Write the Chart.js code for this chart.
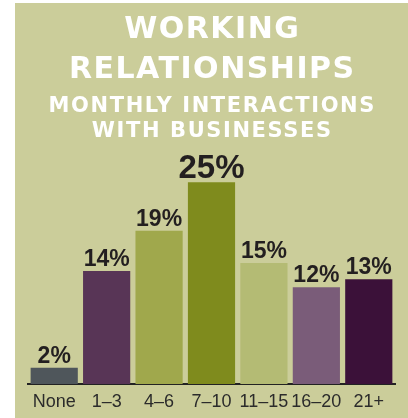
<!DOCTYPE html>
<html>
<head>
<meta charset="utf-8">
<script src="https://cdn.jsdelivr.net/npm/chart.js@4.4.0/dist/chart.umd.min.js"></script>
<style>
  html, body { margin: 0; padding: 0; background: #ffffff; }
  #panel { position: absolute; left: 15px; top: 3px; width: 393px; height: 415px; background: #cbcd9a; overflow: hidden; }
  #chart { display: block; }
</style>
</head>
<body>
<div id="panel"><canvas id="chart" width="393" height="420"></canvas></div>
<script>
// data
const categories = ['None', '1–3', '4–6', '7–10', '11–15', '16–20', '21+'];
const shares = [2, 14, 19, 25, 15, 12, 13];
const barColors = ['#4f565b', '#583556', '#a0a84c', '#7f8b1d', '#b4bb74', '#7a5c79', '#3b1139'];
const titleLines = ['WORKING', 'RELATIONSHIPS'];
const subtitleLines = ['MONTHLY INTERACTIONS', 'WITH BUSINESSES'];

const FONT = '"DejaVu Sans", sans-serif';
const NUM_FONT = '"Liberation Sans", Arial, sans-serif';

// white heading drawn in the space kept free by layout.padding.top
const heading = {
  id: 'heading',
  afterDraw(chart) {
    const ctx = chart.ctx;
    const cx = chart.width / 2;
    ctx.save();
    ctx.fillStyle = '#ffffff';
    ctx.textAlign = 'center';
    ctx.textBaseline = 'alphabetic';
    ctx.font = 'bold 30px ' + FONT;
    ctx.letterSpacing = '1.5px';
    titleLines.forEach((t, i) => ctx.fillText(t, cx + 0.8, 35 + i * 40));
    ctx.font = 'bold 21px ' + FONT;
    ctx.letterSpacing = '1.6px';
    subtitleLines.forEach((t, i) => ctx.fillText(t, cx + 0.8, 109 + i * 25));
    ctx.restore();
  }
};

// labels "NN%" on top of each bar, the biggest one drawn larger
const valueLabels = {
  id: 'valueLabels',
  afterDatasetsDraw(chart) {
    const ctx = chart.ctx;
    const meta = chart.getDatasetMeta(0);
    const data = chart.data.datasets[0].data;
    const top = Math.max(...data);
    ctx.save();
    ctx.fillStyle = '#231f20';
    ctx.textAlign = 'center';
    ctx.textBaseline = 'alphabetic';
    meta.data.forEach((bar, i) => {
      const big = data[i] === top;
      ctx.font = 'bold ' + (big ? 33 : 23) + 'px ' + NUM_FONT;
      ctx.fillText(data[i] + '%', bar.x, bar.y - (big ? 4 : 5));
    });
    ctx.restore();
  }
};

new Chart(document.getElementById('chart'), {
  type: 'bar',
  data: {
    labels: categories,
    datasets: [{
      data: shares,
      backgroundColor: barColors,
      borderWidth: 0,
      barPercentage: 0.9,
      categoryPercentage: 1
    }]
  },
  options: {
    responsive: false,
    animation: false,
    layout: { padding: { left: 13, right: 13, top: 139, bottom: 3 } },
    scales: {
      x: {
        grid: { display: false, drawTicks: false },
        border: { display: true, color: '#222222', width: 2 },
        ticks: {
          color: '#2b2b2b', padding: 9, autoSkip: false, maxRotation: 0, minRotation: 0,
          font: { family: NUM_FONT, size: 18, lineHeight: 1 }
        }
      },
      y: { display: false, min: 0, max: 30 }
    },
    plugins: {
      legend: { display: false },
      tooltip: { enabled: false },
      title: { display: false }
    }
  },
  plugins: [valueLabels, heading]
});
</script>
</body>
</html>
